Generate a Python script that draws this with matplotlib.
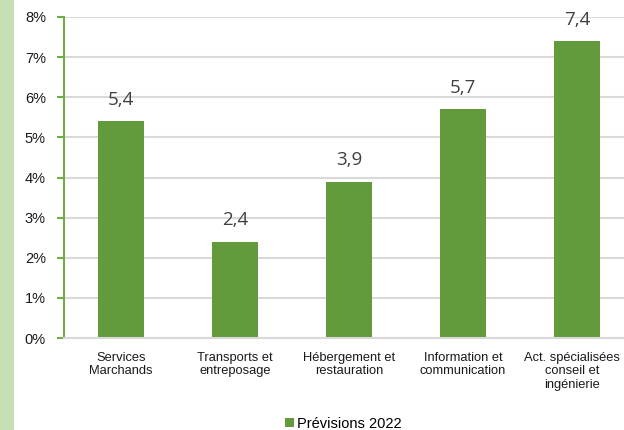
import matplotlib
matplotlib.use("Agg")
import matplotlib.pyplot as plt
from matplotlib.patches import Rectangle
import matplotlib.transforms as mtransforms

categories = ["Services\nMarchands", "Transports et\nentreposage", "Hébergement et\nrestauration",
              "Information et\ncommunication", "Act. spécialisées\nconseil et\ningénierie"]
values = [5.4, 2.4, 3.9, 5.7, 7.4]
yticks = [0, 1, 2, 3, 4, 5, 6, 7, 8]
series_name = "Prévisions 2022"

W, H = 624, 430
fig = plt.figure(figsize=(W/100, H/100), dpi=100)
fig.patches.append(Rectangle((0, 0), 14/W, 1, transform=fig.transFigure,
                             facecolor="#c5e0b4", edgecolor="none", zorder=0))

left, right, top, bottom = 64, 634, 17, 338
ax = fig.add_axes([left/W, 1-bottom/H, (right-left)/W, (bottom-top)/H])
ax.set_xlim(-0.5, len(categories)-0.5)
ax.set_ylim(0, 8)
ax.set_yticks(yticks)
ax.set_yticklabels([f"{t}%" for t in yticks], fontsize=10.5, family="Liberation Sans", color="#1a1a1a")
ax.yaxis.grid(True, color="#d9d9d9", linewidth=1.5)
ax.set_axisbelow(True)
bars = ax.bar(range(len(categories)), values, width=0.4, color="#629a3c", label=series_name, zorder=2)
for i, v in enumerate(values):
    ax.annotate(f"{v:.1f}".replace(".", ","), (i, v), xytext=(0, 9), textcoords="offset points",
                ha="center", va="bottom", fontsize=13.5, family="Open Sans", color="#404040")
ax.set_xticks(range(len(categories)))
ax.set_xticklabels(categories, fontsize=9.3, family="Liberation Sans", color="#1a1a1a", linespacing=1.15)
ax.tick_params(axis="x", length=0, pad=10)
ax.tick_params(axis="y", length=5, width=1.5, color="#70ad47", pad=8, direction="out")
last = ax.get_xticklabels()[-1]
last.set_transform(last.get_transform() + mtransforms.ScaledTranslation(-5/100, 0, fig.dpi_scale_trans))
for s in ["top", "right"]:
    ax.spines[s].set_visible(False)
ax.spines["left"].set_color("#70ad47")
ax.spines["left"].set_linewidth(1.5)
ax.spines["bottom"].set_color("#d9d9d9")
ax.spines["bottom"].set_linewidth(1.5)

leg = fig.legend(handles=[bars], labels=[series_name], loc="center", bbox_to_anchor=(343/W, 1-424/H),
                 frameon=False, prop={"family": "Liberation Sans", "size": 10.5},
                 handlelength=0.6, handleheight=0.6, handletextpad=0.2)
fig.savefig("out.png", dpi=100)
